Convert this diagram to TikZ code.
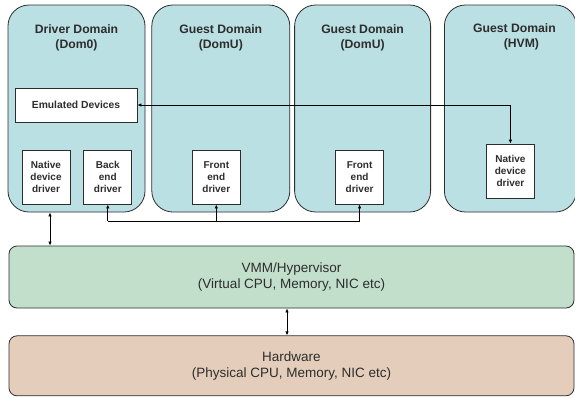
\documentclass[tikz,border=0pt]{standalone}
\usepackage{fontspec}
\setmainfont{Liberation Sans}
\usetikzlibrary{positioning}
\usetikzlibrary{arrows.meta}
\definecolor{domfill}{RGB}{187,224,227}
\definecolor{vmmfill}{RGB}{194,223,203}
\definecolor{hwfill}{RGB}{228,206,187}
\definecolor{linea}{RGB}{45,45,45}
\tikzset{
  flecha/.style={line width=0.8pt, -{Latex[length=4pt,width=3.5pt]}},
  dflecha/.style={line width=0.8pt, {Latex[length=4pt,width=3.5pt]}-{Latex[length=4pt,width=3.5pt]}}
}

\begin{document}
\begin{tikzpicture}[x=1pt,y=1pt]
\useasboundingbox (0,0) rectangle (575,-397);
% Estilos de nodos
\tikzstyle{dominio} = [rectangle, draw=linea, line width=0.8pt, rounded corners=21pt, fill=domfill, minimum width=137pt, minimum height=207pt, inner sep=0pt]
\tikzstyle{titulo} = [font=\bfseries\fontsize{12.2}{15}\selectfont, align=center, inner sep=0pt, text=linea]
\tikzstyle{driver} = [rectangle, draw=linea, line width=0.8pt, fill=white, minimum width=48pt, minimum height=54pt, inner sep=0pt, align=center, text=linea, font=\bfseries\fontsize{10}{11.7}\selectfont]
\tikzstyle{capa} = [rectangle, draw=linea, line width=0.8pt, rounded corners=8pt, minimum width=565pt, minimum height=62pt, align=center, text=linea, font=\fontsize{13.5}{16}\selectfont]
% Dominios
\node (dom0) [dominio] at (76.5,-108.5) {};
\node (domu1) [dominio, minimum width=138pt, right=6pt of dom0] {};
\node (domu2) [dominio, minimum width=136pt, right=4pt of domu1] {};
\node (hvm) [dominio, minimum width=132pt, right=13pt of domu2] {};
\node (t0) [titulo, below=20pt of dom0.north] {Driver Domain\\(Dom0)};
\node (t1) [titulo, below=20pt of domu1.north] {Guest Domain\\(DomU)};
\node (t2) [titulo, below=20pt of domu2.north] {Guest Domain\\(DomU)};
\node (t3) [titulo, below=19pt of hvm.north, xshift=4pt] {Guest Domain\\\hspace*{14pt}(HVM)};
% Drivers
\node (emu) [driver, minimum width=122pt, minimum height=34pt, font=\bfseries\fontsize{10.3}{12}\selectfont] at (76,-105) {Emulated Devices};
\node (nat0) [driver] at (46,-177) {Native\\device\\driver};
\node (back) [driver, right=13pt of nat0] {Back\\end\\driver};
\node (front1) [driver, above=8pt of domu1.south, xshift=-4.5pt] {Front\\end\\driver};
\node (front2) [driver, above=8pt of domu2.south, xshift=-3pt] {Front\\end\\driver};
\node (nathvm) [driver, above=14pt of hvm.south] {Native\\device\\driver};
% Capas
\node (vmm) [capa, fill=vmmfill] at (291.5,-277) {VMM/Hypervisor\\(Virtual CPU, Memory, NIC etc)};
\node (hw) [capa, fill=hwfill, minimum height=60pt, below=27pt of vmm] {Hardware\\(Physical CPU, Memory, NIC etc)};
% Flechas
\draw[dflecha] (emu.east) -| (nathvm.north);
\coordinate (bus) at (0,-221);
\draw[line width=0.8pt] (back.south |- bus) -- (front2.south |- bus);
\foreach \d in {back,front1,front2}{ \draw[flecha] (\d.south |- bus) -- (\d.south); }
\coordinate (d0) at ([xshift=4pt]nat0.south);
\draw[dflecha] (d0 |- dom0.south) -- (d0 |- vmm.north);
\draw[dflecha] ([xshift=-4.5pt]vmm.south) -- ([xshift=-4.5pt]hw.north);
\end{tikzpicture}
\end{document}
